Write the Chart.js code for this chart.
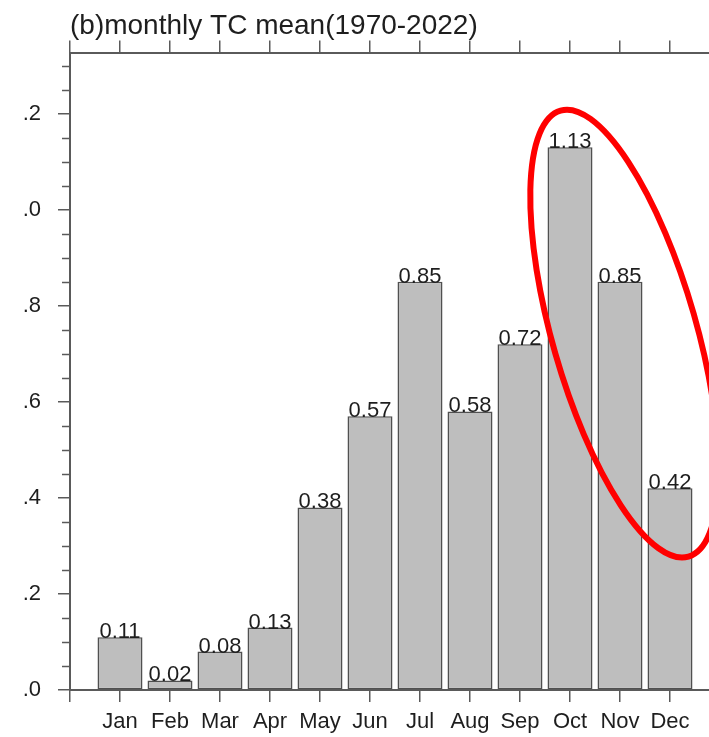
<!DOCTYPE html>
<html>
<head>
<meta charset="utf-8">
<script src="https://cdn.jsdelivr.net/npm/chart.js@4.4.0/dist/chart.umd.min.js"></script>
<style>
    html, body { margin: 0; padding: 0; background: #fff; overflow: hidden; }
    #wrap { position: relative; width: 709px; height: 737px; overflow: hidden; }
    #box { position: absolute; left: 0; top: 0; width: 780px; height: 737px; }
</style>
</head>
<body>
<div id="wrap"><div id="box"><canvas id="tcChart"></canvas></div></div>
<script>
// monthly TC mean, 1970-2022
const months = ['Jan', 'Feb', 'Mar', 'Apr', 'May', 'Jun', 'Jul', 'Aug', 'Sep', 'Oct', 'Nov', 'Dec'];
const tcMean = [0.11, 0.02, 0.08, 0.13, 0.38, 0.57, 0.85, 0.58, 0.72, 1.13, 0.85, 0.42];
// y tick labels as they show in the (left-cropped) figure
const yTickLabels = ['.0', '.2', '.4', '.6', '.8', '.0', '.2'];

const axisColor = '#5a5a5a';
const textColor = '#1e1e1e';
const fontFamily = '"Liberation Sans", Arial, Helvetica, sans-serif';

// short minor ticks on the left axis, every 0.05
const minorTicks = {
    id: 'minorTicks',
    afterDraw(chart) {
        const y = chart.scales.y;
        const ctx = chart.ctx;
        const left = chart.chartArea.left;
        ctx.save();
        ctx.strokeStyle = axisColor;
        ctx.lineWidth = 1.5;
        for (let i = 0; i * 0.05 <= y.max; i++) {
            if (i % 4 === 0) continue;
            const py = Math.round(y.getPixelForValue(i * 0.05)) + 0.5;
            ctx.beginPath();
            ctx.moveTo(left - 8, py);
            ctx.lineTo(left, py);
            ctx.stroke();
        }
        ctx.restore();
    }
};

// value printed on top of each bar
const barValues = {
    id: 'barValues',
    afterDatasetsDraw(chart) {
        const ctx = chart.ctx;
        const meta = chart.getDatasetMeta(0);
        ctx.save();
        ctx.font = '22px ' + fontFamily;
        ctx.fillStyle = textColor;
        ctx.textAlign = 'center';
        ctx.textBaseline = 'alphabetic';
        meta.data.forEach((bar, i) => {
            ctx.fillText(tcMean[i].toFixed(2), bar.x, bar.y + 1);
        });
        ctx.restore();
    }
};

// red ellipse around Oct-Dec
const highlight = {
    id: 'highlight',
    afterDraw(chart) {
        const ctx = chart.ctx;
        const cx = chart.scales.x.getPixelForValue(11.09);
        const cy = chart.scales.y.getPixelForValue(0.742);
        ctx.save();
        ctx.strokeStyle = '#ff0000';
        ctx.lineWidth = 6;
        ctx.beginPath();
        ctx.ellipse(cx, cy, 232, 72, 74 * Math.PI / 180, 0, Math.PI * 2);
        ctx.stroke();
        ctx.restore();
    }
};

const ctx = document.getElementById('tcChart').getContext('2d');
new Chart(ctx, {
    type: 'bar',
    data: {
        datasets: [{
            data: months.map((m, i) => ({ x: i + 1, y: tcMean[i] })),
            backgroundColor: '#bebebe',
            borderColor: '#505050',
            borderWidth: 1.5,
            borderSkipped: false,
            barPercentage: 0.9,
            categoryPercentage: 1.0
        }]
    },
    options: {
        responsive: true,
        maintainAspectRatio: false,
        animation: false,
        layout: { padding: { top: 0, right: 60, bottom: 0, left: 0 } },
        plugins: {
            legend: { display: false },
            tooltip: { enabled: false },
            title: {
                display: true,
                text: '(b)monthly TC mean(1970-2022)',
                align: 'start',
                fullSize: false,
                color: textColor,
                font: { family: fontFamily, size: 28, weight: 'normal' },
                padding: { top: 9, bottom: 0 }
            }
        },
        scales: {
            x: {
                type: 'linear',
                position: 'bottom',
                min: 0,
                max: 13,
                offset: false,
                afterFit: (s) => { s.height = 47; },
                grid: { offset: false, drawOnChartArea: false, drawTicks: true, tickLength: 12, color: axisColor, lineWidth: 1.5 },
                border: { display: true, color: axisColor, width: 2 },
                ticks: {
                    stepSize: 1,
                    autoSkip: false,
                    maxRotation: 0,
                    padding: 7,
                    color: textColor,
                    font: { family: fontFamily, size: 22 },
                    callback: (v) => months[v - 1] || ''
                }
            },
            xTop: {
                type: 'linear',
                position: 'top',
                min: 0,
                max: 13,
                offset: false,
                afterFit: (s) => { s.height = 10; },
                grid: { offset: false, drawOnChartArea: false, drawTicks: true, tickLength: 12, color: axisColor, lineWidth: 1.5 },
                border: { display: true, color: axisColor, width: 2 },
                ticks: { stepSize: 1, autoSkip: false, display: false }
            },
            y: {
                min: 0,
                max: 1.327,
                afterFit: (s) => { s.width = 70; },
                grid: { drawOnChartArea: false, drawTicks: true, tickLength: 12, color: axisColor, lineWidth: 1.5 },
                border: { display: true, color: axisColor, width: 2 },
                ticks: {
                    stepSize: 0.2,
                    includeBounds: false,
                    padding: 17,
                    color: textColor,
                    font: { family: fontFamily, size: 22 },
                    callback: (v, i) => yTickLabels[i]
                }
            }
        }
    },
    plugins: [minorTicks, barValues, highlight]
});
</script>
</body>
</html>
